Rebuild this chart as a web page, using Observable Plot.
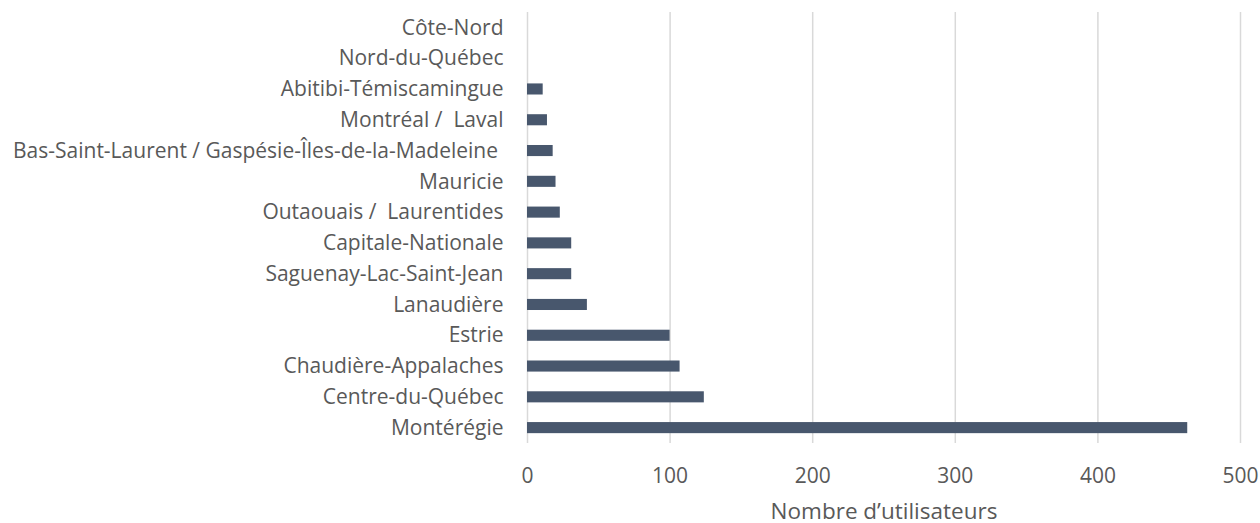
<!DOCTYPE html>
<html>
<head>
<meta charset="utf-8">
<script src="https://cdn.jsdelivr.net/npm/d3@7"></script>
<script src="https://cdn.jsdelivr.net/npm/@observablehq/plot@0.6"></script>
<style>
  html, body { margin: 0; padding: 0; background: #fff; }
  #chart svg { display: block; }
</style>
</head>
<body>
<div id="chart"></div>
<script>
const regions = [
  "Côte-Nord",
  "Nord-du-Québec",
  "Abitibi-Témiscamingue",
  "Montréal /\u00A0 Laval",
  "Bas-Saint-Laurent / Gaspésie-Îles-de-la-Madeleine\u00A0",
  "Mauricie",
  "Outaouais /\u00A0 Laurentides",
  "Capitale-Nationale",
  "Saguenay-Lac-Saint-Jean",
  "Lanaudière",
  "Estrie",
  "Chaudière-Appalaches",
  "Centre-du-Québec",
  "Montérégie"
];
const users = [0, 0, 11, 14, 18, 20, 23, 31, 31, 42, 100, 107, 124, 463];
const xTicks = [0, 100, 200, 300, 400, 500];
const xTitle = "Nombre d’utilisateurs";

const data = regions.map((r, i) => ({region: r, value: users[i]}));

const chart = Plot.plot({
  width: 1260,
  height: 523,
  marginLeft: 527,
  marginRight: 20,
  marginTop: 12,
  marginBottom: 80,
  style: {fontFamily: "'Open Sans', sans-serif", fontSize: "21px", color: "#595959", background: "#fff"},
  x: {domain: [0, 500]},
  y: {domain: regions, paddingInner: 0.64, paddingOuter: 0.32, round: false},
  marks: [
    Plot.ruleX(xTicks, {stroke: "#d9d9d9", strokeWidth: 1.5}),
    Plot.barX(data, {x: "value", y: "region", fill: "#48576d"}),
    Plot.axisY({tickSize: 0, tickPadding: 24, label: null, fontSize: 21}),
    Plot.axisX({ticks: xTicks, tickSize: 0, tickPadding: 25, label: null, fontSize: 21}),
    Plot.text([xTitle], {frameAnchor: "bottom", text: d => d, dy: 68, fontSize: 22.5, fill: "#595959", lineAnchor: "middle"})
  ]
});
document.getElementById("chart").appendChild(chart);
</script>
</body>
</html>
